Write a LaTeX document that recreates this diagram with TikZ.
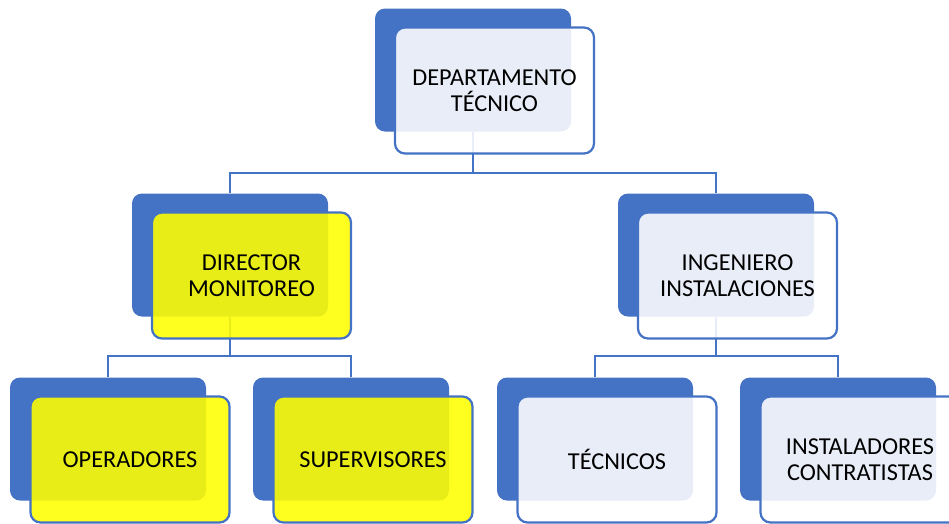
\documentclass[tikz,border=0pt]{standalone}
\usepackage{fontspec}
\setmainfont{Carlito}
\definecolor{accent}{HTML}{4472C4}
\definecolor{hilite}{HTML}{FFFF00}
\begin{document}
\begin{tikzpicture}[x=1pt,y=-1pt,
  backbox/.style={draw=none, fill=accent, rounded corners=10pt, minimum width=196pt, minimum height=123pt, inner sep=0pt},
  frontbox/.style={draw=accent, line width=2.2pt, fill=white, fill opacity=0.88, draw opacity=1, text opacity=1, rounded corners=10pt, minimum width=199pt, minimum height=126pt, inner sep=0pt, align=center, font=\fontsize{24.3}{26}\selectfont},
  yellowbox/.style={frontbox, fill=hilite},
  conn/.style={draw=accent, line width=2.2pt}]
\useasboundingbox (0,0) rectangle (949,523);
\clip (0,0) rectangle (949,523);
% back boxes
\node[backbox] (topB) at (473,70) {};
\node[backbox] (dirB) at (230,255) {};
\node[backbox] (ingB) at (716,255) {};
\node[backbox] (opB) at (108,439) {};
\node[backbox] (supB) at (351,439) {};
\node[backbox] (tecB) at (595,439) {};
\node[backbox] (instB) at (838,439) {};
% connectors
\draw[conn] (topB.south) -- (topB.south |- 0,173) -| (dirB.north);
\draw[conn] (topB.south) -- (topB.south |- 0,173) -| (ingB.north);
\draw[conn] (dirB.south) -- (dirB.south |- 0,356) -| (opB.north);
\draw[conn] (dirB.south) -- (dirB.south |- 0,356) -| (supB.north);
\draw[conn] (ingB.south) -- (ingB.south |- 0,356) -| (tecB.north);
\draw[conn] (ingB.south) -- (ingB.south |- 0,356) -| (instB.north);
% front boxes
\node[frontbox] (top) at (494.5,90.5) {DEPARTAMENTO\\TÉCNICO};
\node[yellowbox] (dir) at (251.5,275.5) {DIRECTOR\\MONITOREO};
\node[frontbox] (ing) at (737.5,275.5) {INGENIERO\\INSTALACIONES};
\node[yellowbox] (op) at (130,459.5) {OPERADORES};
\node[yellowbox] (sup) at (373,459.5) {SUPERVISORES};
\node[frontbox] (tec) at (617,459.5) {TÉCNICOS};
\node[frontbox] (inst) at (860,459.5) {INSTALADORES\\CONTRATISTAS};
\end{tikzpicture}
\end{document}
